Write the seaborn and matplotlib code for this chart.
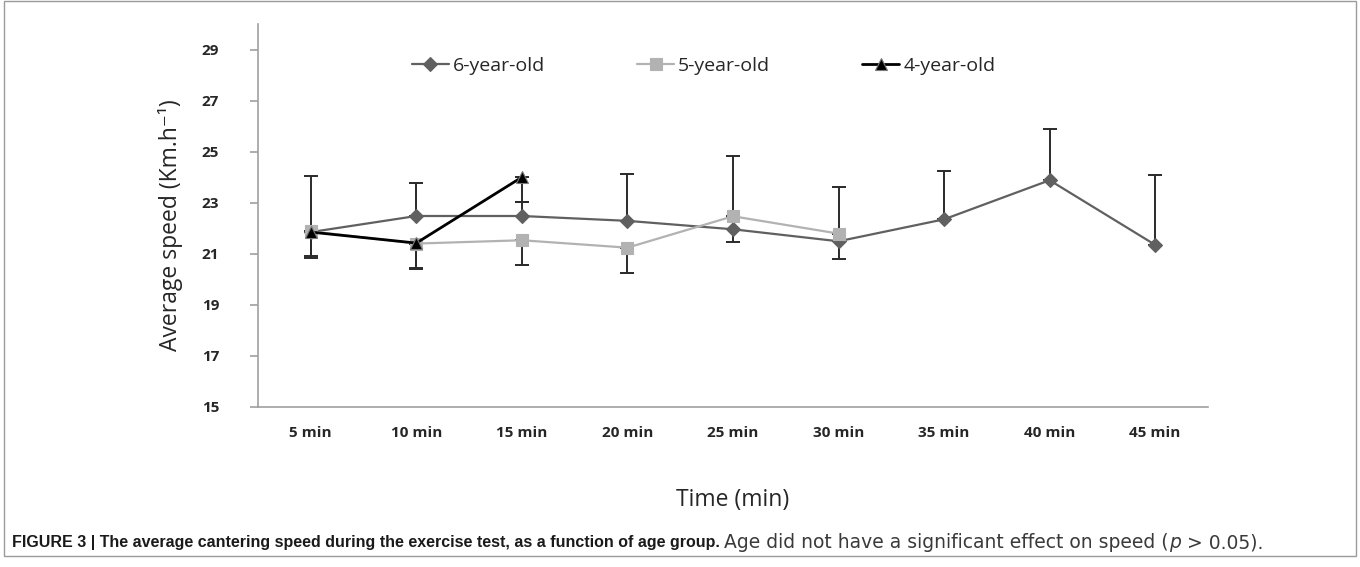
# plot.py
# - Average cantering speed by age group, Excel-style line chart with one-sided error bars
# - seaborn lineplot for the series, matplotlib errorbar for the SD whiskers

import matplotlib

matplotlib.use("Agg")
import matplotlib.pyplot as plt
import pandas as pd
import seaborn as sns
from matplotlib.patches import Rectangle

times = ["5 min", "10 min", "15 min", "20 min", "25 min", "30 min", "35 min", "40 min", "45 min"]

six_year = [21.85, 22.48, 22.48, 22.29, 21.96, 21.49, 22.35, 23.88, 21.35]
six_year_err_up = [2.19, 1.29, 0.55, 1.85, 2.86, 2.11, 1.89, 1.99, 2.73]

five_year = [21.88, 21.40, 21.53, 21.24, 22.47, 21.79]
five_year_err_down = [0.98, 0.97, 0.98, 0.99, 1.01, 0.98]

four_year = [21.85, 21.42, 24.00]
four_year_err_down = [1.00, 1.00, 0.97]

series = {
    "6-year-old": (six_year, six_year_err_up, "up"),
    "5-year-old": (five_year, five_year_err_down, "down"),
    "4-year-old": (four_year, four_year_err_down, "down"),
}
colors = {"6-year-old": "#606060", "5-year-old": "#b2b2b2", "4-year-old": "#000000"}
markers = {"6-year-old": "D", "5-year-old": "s", "4-year-old": "^"}
sizes = {"6-year-old": 7, "5-year-old": 9, "4-year-old": 8}
widths = {"6-year-old": 1.6, "5-year-old": 1.6, "4-year-old": 2.0}

rows = []
for name, (vals, _, _) in series.items():
    for i, v in enumerate(vals):
        rows.append({"pos": i, "speed": v, "group": name})
data = pd.DataFrame(rows)

sns.set_style("white")
plt.rcParams["font.family"] = ["Open Sans", "DejaVu Sans"]

fig = plt.figure(figsize=(13.6, 5.67), dpi=100)
ax = fig.add_axes([0.1897, 0.2822, 0.6985, 0.6755])

# error bars first so markers sit on top
for name, (vals, errs, side) in series.items():
    x = list(range(len(vals)))
    if side == "up":
        yerr = [[0] * len(vals), errs]
    else:
        yerr = [errs, [0] * len(vals)]
    ax.errorbar(x, vals, yerr=yerr, fmt="none", ecolor="#2a2a2a",
                elinewidth=1.4, capsize=5, capthick=1.4, zorder=2)

for name in series:
    sub = data[data["group"] == name]
    sns.lineplot(data=sub, x="pos", y="speed", ax=ax, color=colors[name],
                 marker=markers[name], markersize=sizes[name],
                 markeredgecolor="#7a7a7a" if name == "4-year-old" else colors[name],
                 markeredgewidth=0.8, linewidth=widths[name], label=name,
                 zorder=3, errorbar=None)

ax.set_xlim(-0.5, len(times) - 0.5)
ax.set_ylim(15, 30)
ax.set_yticks(range(15, 30, 2))
ax.set_xticks(range(len(times)))
ax.set_xticklabels(times, fontsize=11, fontweight="bold")
for lab in ax.get_yticklabels():
    lab.set_fontsize(11)
    lab.set_fontweight("bold")

# Excel-style tick marks between categories
ax.set_xticks([i - 0.5 for i in range(len(times) + 1)], minor=True)
ax.tick_params(axis="x", which="major", length=0, pad=14)
ax.tick_params(axis="x", which="minor", length=6, direction="out",
               color="#a0a0a0", width=1.2)
ax.tick_params(axis="y", length=6, direction="out", color="#a0a0a0",
               width=1.2, pad=22, left=True)

for side in ["top", "right"]:
    ax.spines[side].set_visible(False)
for side in ["left", "bottom"]:
    ax.spines[side].set_color("#a0a0a0")
    ax.spines[side].set_linewidth(1.2)

ax.set_xlabel("Time (min)", fontsize=16.5, labelpad=34)
ax.set_ylabel("Average speed (Km.h\u207b\u00b9)", fontsize=16.5,
              family=["Open Sans", "DejaVu Sans"])
ax.yaxis.set_label_coords(-0.079, 0.475)

ax.legend(loc="center", bbox_to_anchor=(0.469, 0.89), ncol=3, frameon=False,
          fontsize=14, handlelength=1.9, handletextpad=0.2, columnspacing=4.75)

# figure frame
fig.patches.append(Rectangle((0.003, 0.02), 0.994, 0.978, transform=fig.transFigure,
                             fill=False, edgecolor="#9a9a9a", linewidth=1.0))

# caption: bold lead-in, normal text, italic p
cap_y = 1 - 541 / 567
pieces = [
    ("FIGURE 3 | The average cantering speed during the exercise test, as a function of age group. ",
     "bold", "normal", "#1a1a1a", ["Liberation Sans", "DejaVu Sans"], 11.5),
    ("Age did not have a significant effect on speed (", "normal", "normal", "#3a3a3a",
     ["DejaVu Sans"], 13.5),
    ("p", "normal", "italic", "#3a3a3a", ["DejaVu Sans"], 13.5),
    (" > 0.05).", "normal", "normal", "#3a3a3a", ["DejaVu Sans"], 13.5),
]
renderer = fig.canvas.get_renderer()
x0 = 12 / 1360
for text, weight, style, col, fam, size in pieces:
    t = fig.text(x0, cap_y, text, fontsize=size, fontweight=weight, fontstyle=style,
                 family=fam, color=col, va="center_baseline", ha="left")
    bb = t.get_window_extent(renderer=renderer)
    x0 = bb.x1 / fig.bbox.width

fig.savefig("out.png", dpi=100)
